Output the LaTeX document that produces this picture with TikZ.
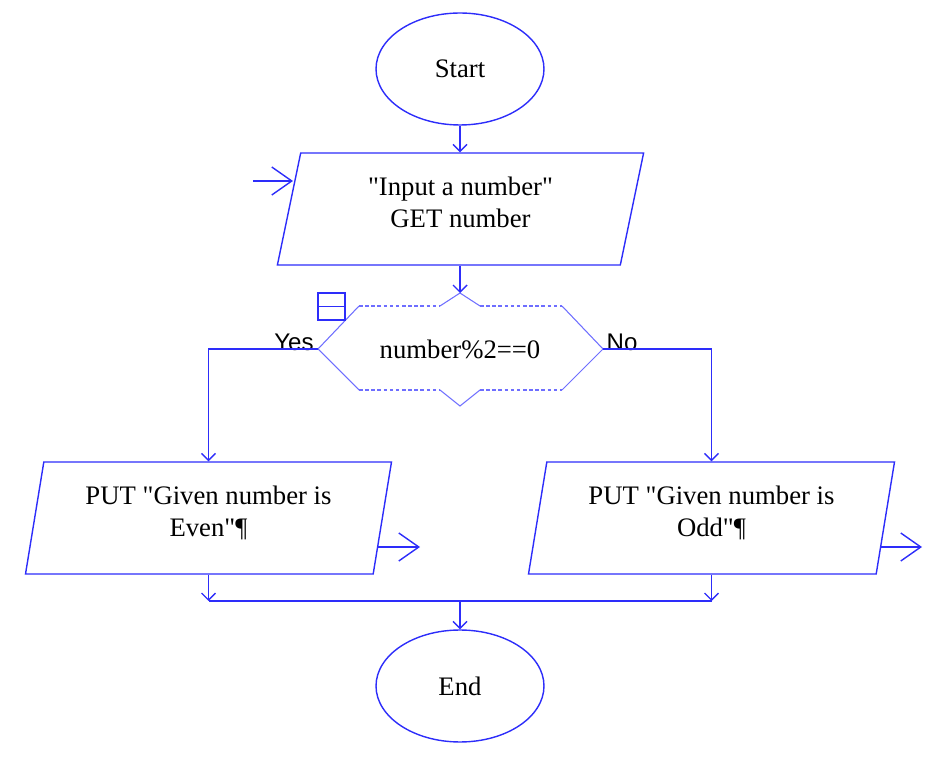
\documentclass[tikz,border=0pt]{standalone}
\usepackage{fontspec}
\setmainfont{Liberation Serif}[Ligatures=TeXOff]
\newfontfamily\yesnofont{Liberation Sans}
\usetikzlibrary{shapes.geometric,arrows.meta}
\definecolor{flowblue}{RGB}{45,45,250}
\definecolor{dotblue}{RGB}{110,110,255}

\begin{document}
\begin{tikzpicture}[x=0.02cm,y=-0.02cm,
  font=\fontsize{15.2}{18.4}\selectfont,
  terminal/.style={ellipse, draw=flowblue, line width=0.8pt, minimum width=3.36cm, minimum height=2.24cm},
  iobox/.style={trapezium, trapezium left angle=79.4, trapezium right angle=100.6,
    trapezium stretches=true, draw=flowblue, line width=0.8pt,
    minimum width=7.34cm, minimum height=2.24cm, align=center, text depth=0.28cm},
  flow/.style={draw=flowblue, line width=0.8pt, -{Straight Barb[length=0.14cm,width=0.28cm]}},
  link/.style={draw=flowblue, line width=0.8pt},
  port/.style={draw=flowblue, line width=0.8pt, -{Straight Barb[length=0.4cm,width=0.56cm]}},
  edge/.style={draw=dotblue, line width=0.6pt},
  branch/.style={font=\yesnofont\fontsize{13.7}{16}\selectfont}]
\useasboundingbox (0,0) rectangle (940,766);

% Terminals
\node[terminal] (start) at (460,69) {Start};
\node[terminal] (end) at (460,686) {End};

% Input / output boxes
\node[iobox] (input) at (460.5,209) {"Input a number"\\GET number};
\node[iobox] (even) at (208.5,518) {PUT "Given number is\\Even"¶};
\node[iobox] (odd) at (711.5,518) {PUT "Given number is\\Odd"¶};

% Decision
\coordinate (decT) at (460,293);
\coordinate (decL) at (318,349);
\coordinate (decR) at (603,349);
\coordinate (decB) at (460,406);
\node (test) at (460,349) {number\%2==0};
\draw[edge] (440,306) -- (decT) -- (480,306);
\draw[edge] (440,390) -- (decB) -- (480,390);
\draw[edge] (359,306) -- (decL) -- (359,390);
\draw[edge] (562,306) -- (decR) -- (562,390);
\draw[edge, dash pattern=on 2pt off 1.5pt] (359,306) -- (440,306) (480,306) -- (562,306)
  (359,390) -- (440,390) (480,390) -- (562,390);
\node[draw=flowblue, line width=0.8pt, minimum width=0.54cm, minimum height=0.54cm,
  inner sep=0pt] (fold) at (331.5,306.5) {};
\draw[link] (fold.west) -- (fold.east);

% Branch labels
\node[branch] (yes) at (294,342) {Yes};
\node[branch] (no) at (622,342) {No};

% Connectors
\coordinate (inEntry) at (253,181);
\coordinate (inEdge) at (293,181);
\coordinate (evenOut) at (377,547);
\coordinate (evenTip) at (420,547);
\coordinate (oddOut) at (881,547);
\coordinate (oddTip) at (922,547);
\coordinate (merge) at (460,601);
\draw[flow] (start.south) -- (start.south |- input.north);
\draw[port] (inEntry) -- (inEdge);
\draw[flow] (start.south |- input.south) -- (decT);
\draw[flow] (decL) -| (even.north -| even.center);
\draw[flow] (decR) -| (odd.north -| odd.center);
\draw[port] (evenOut) -- (evenTip);
\draw[port] (oddOut) -- (oddTip);
\draw[flow] (even.south -| even.center) -- (even.center |- merge);
\draw[flow] (odd.south -| odd.center) -- (odd.center |- merge);
\draw[link] (even.center |- merge) -- (odd.center |- merge);
\draw[flow] (merge) -- (end.north);
\end{tikzpicture}
\end{document}
